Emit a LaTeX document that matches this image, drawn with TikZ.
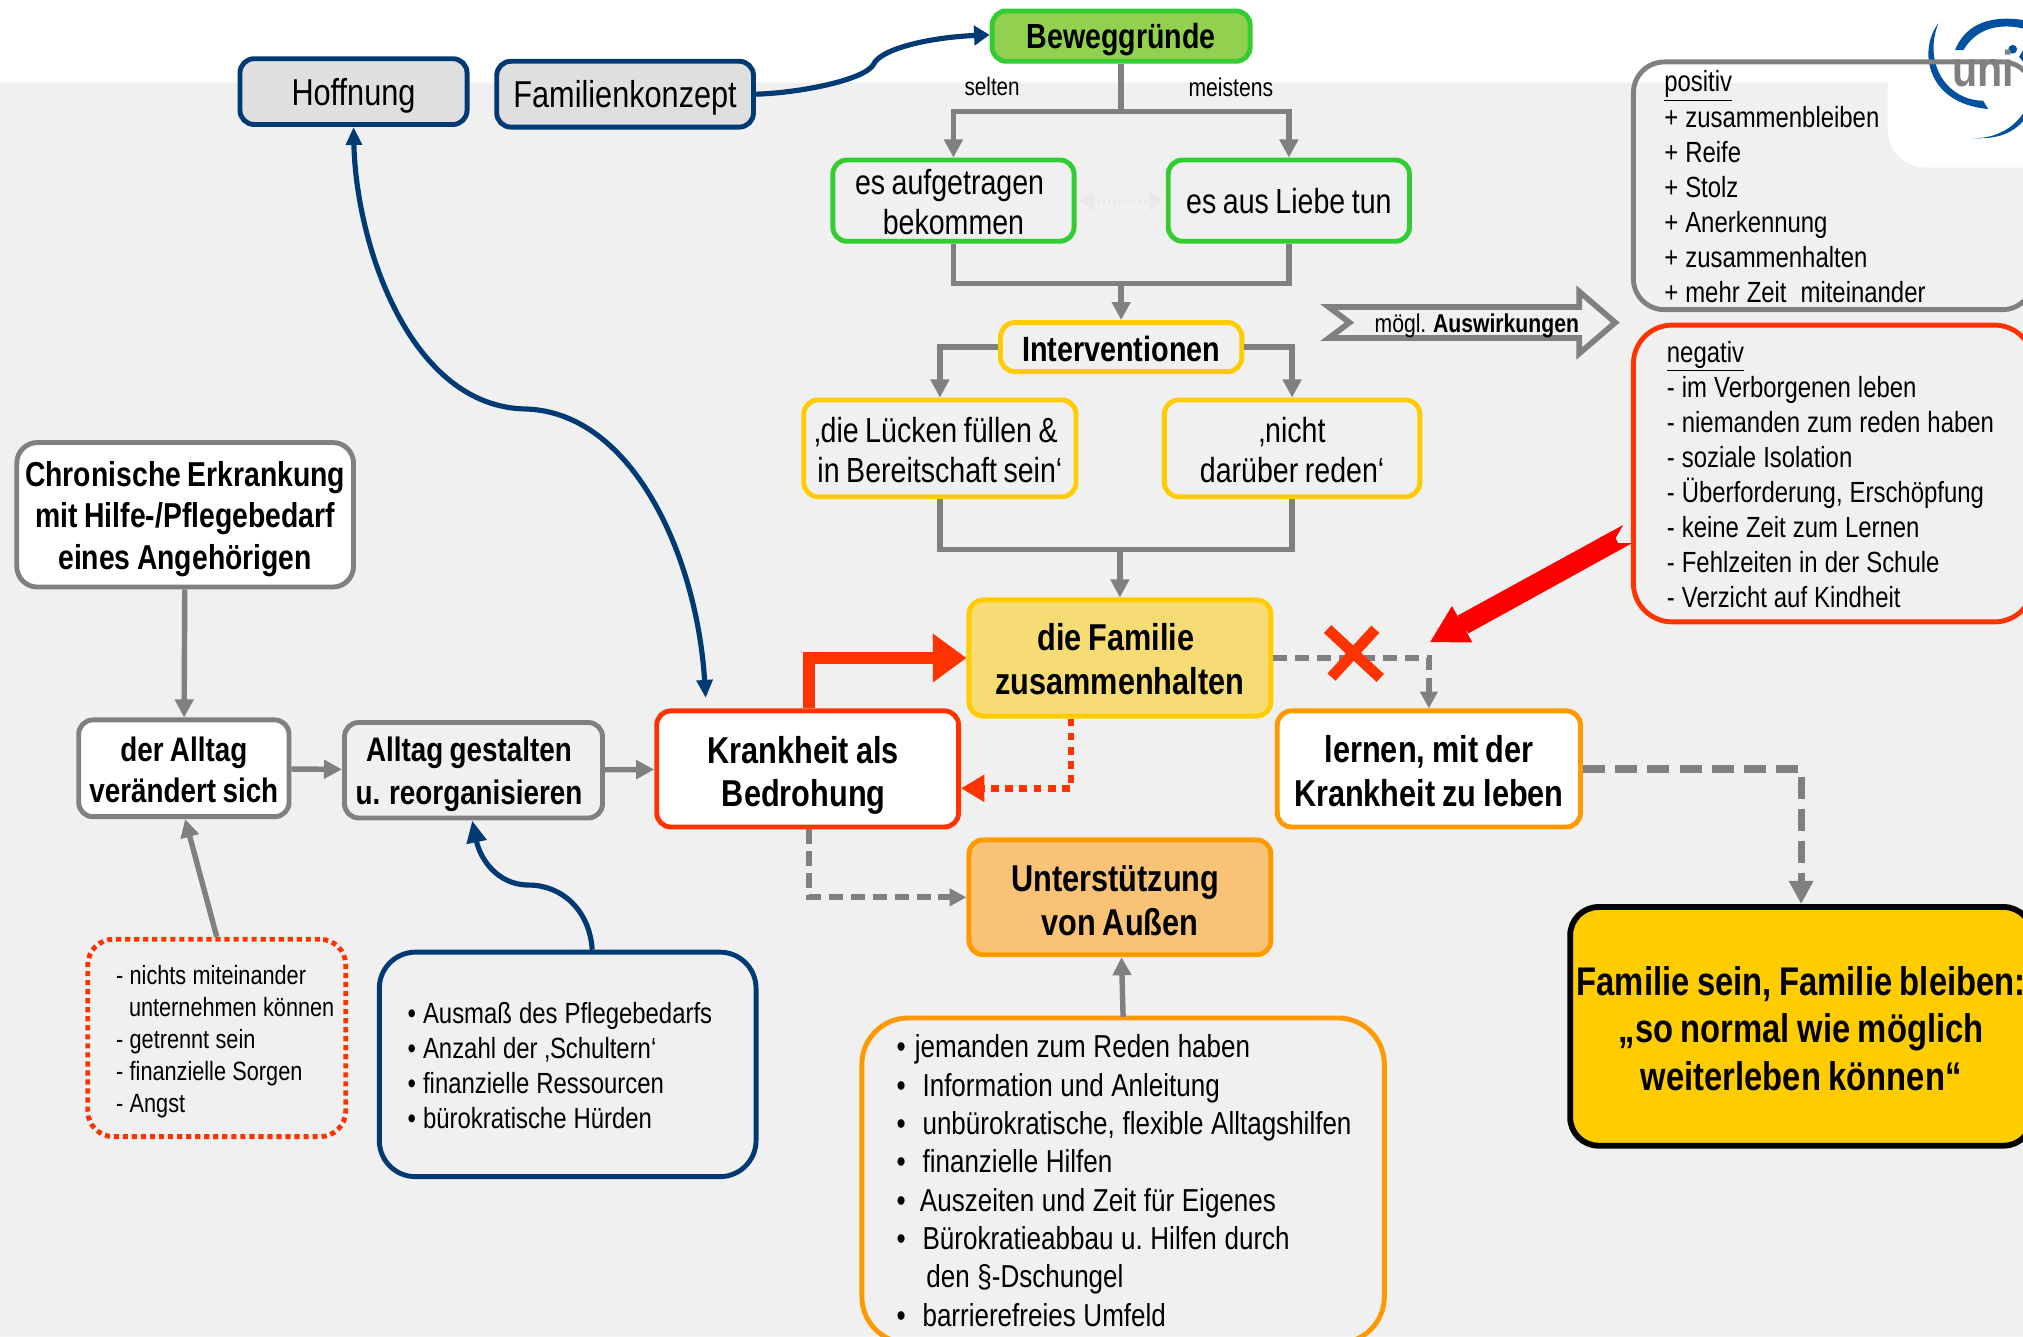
\documentclass[tikz,border=0pt]{standalone}
\usepackage{fontspec}
\setmainfont[FakeStretch=0.82,WordSpace=0.82]{Liberation Sans}
\usetikzlibrary{arrows.meta,positioning,calc}
\definecolor{bggray}{HTML}{F0F0F0}
\definecolor{ngray}{HTML}{808080}
\definecolor{navy}{HTML}{003A75}
\definecolor{rust}{HTML}{FF3300}
\definecolor{gold}{HTML}{FFCC00}
\definecolor{amber}{HTML}{FF9900}
\definecolor{lime}{HTML}{33CC33}
\definecolor{leaf}{HTML}{92D050}
\definecolor{sand}{HTML}{F7DC75}
\definecolor{peach}{HTML}{F8C376}
\definecolor{unib}{HTML}{00519E}
\begin{document}
\begin{tikzpicture}[x=1pt,y=-1pt,
    nd/.style={draw, rounded corners=11pt, align=center, inner sep=0pt, line width=3.8pt},
    dn/.style={execute at begin node={\rule{0pt}{#1pt}}},
    ind/.style={execute at begin node={\leftskip=#1pt\spaceskip=.24em\xspaceskip=.24em\rule{0pt}{18pt}}},
    rg/.style={font=\fontsize{27}{31}\selectfont},
    bd/.style={font=\fontsize{29}{34}\selectfont\bfseries},
    ls/.style={font=\fontsize{22.6}{27.2}\selectfont},
    ar/.style={-{Triangle[length=14pt,width=14pt]}, ngray, line width=4.2pt},
    ln/.style={ngray, line width=4.2pt},
    da/.style={-{Triangle[length=13pt,width=13pt]}, ngray, line width=4.5pt, dash pattern=on 11pt off 6pt},
    cv/.style={navy, line width=4pt},
]
\clip (0,0) rectangle (1568,1036);
% === Background ===
\fill[white] (0,0) rectangle (1568,1036);
\fill[bggray] (0,64) -- (1463,64) -- (1463,100) .. controls (1463,117) and (1476,130) .. (1493,130) -- (1568,130) -- (1568,1036) -- (0,1036) -- cycle;

% === Logo ===
\fill[unib] (1502.4,18) .. controls (1487,38) and (1492,80) .. (1541,84.5) -- (1537,78) .. controls (1510,78) and (1490,50) .. cycle;
\fill[unib] (1515.3,38.8) .. controls (1522,22) and (1538,11) .. (1568,15.5) -- (1568,22) .. controls (1545,17) and (1530,25) .. (1521.8,38.8) -- cycle;
\fill[unib] (1528,107) .. controls (1545,108) and (1560,100) .. (1568,88) -- (1568,94) .. controls (1558,105) and (1545,108) .. cycle;
\fill[unib] (1560,38.2) circle[radius=3.4];
\fill[unib] (1568,39) -- (1565,44) -- (1568,48) -- cycle;
\node[font=\fontsize{39}{39}\selectfont\bfseries, text=ngray, anchor=base west, inner sep=0pt] (logo) at (1513,67) {uni};

% === Row 0: Top boxes ===
\node[nd, fill=gray!25, draw=navy, minimum width=176pt, minimum height=51pt, font=\fontsize{29}{31}\selectfont, dn=27] (hof) at (274,71) {Hoffnung};
\node[nd, fill=gray!25, draw=navy, minimum width=199pt, minimum height=51pt, font=\fontsize{29}{31}\selectfont, dn=27] (fam) at (484.5,73) {Familienkonzept};
\node[nd, fill=leaf, draw=lime, minimum width=200pt, minimum height=39pt, font=\fontsize{27}{31}\selectfont\bfseries, dn=25] (bew) at (869,28) {Beweggründe};

% === Row 1: Motive ===
\node[nd, draw=lime, minimum width=187pt, minimum height=63pt, rg, dn=53] (auf) at (739,155.5) {es aufgetragen\hspace*{6pt}\\bekommen};
\node[nd, draw=lime, minimum width=187pt, minimum height=63pt, rg] (lieb) at (999,155.5) {es aus Liebe tun};

% === Row 2: Interventionen ===
\node[nd, draw=gold, minimum width=187pt, minimum height=38pt, font=\fontsize{27.2}{31}\selectfont\bfseries, dn=22] (int) at (869,269) {Interventionen};
\node[nd, draw=gold, minimum width=211pt, minimum height=75pt, rg, dn=53] (luck) at (728.5,347.5) {‚die Lücken füllen \&\hspace*{6pt}\\in Bereitschaft sein‘};
\node[nd, draw=gold, minimum width=198pt, minimum height=75pt, rg, dn=53] (nich) at (1001.5,347.5) {‚nicht\\darüber reden‘};

% === Row 3: Centre ===
\node[nd, fill=sand, draw=gold, minimum width=234pt, minimum height=90pt, bd, dn=57] (zus) at (868,510) {die Familie\hspace*{6pt}\\zusammenhalten};
\node[nd, fill=white, draw=rust, minimum width=234pt, minimum height=90pt, bd, dn=65] (krank) at (626,596) {Krankheit als\hspace*{7pt}\\Bedrohung\hspace*{6pt}};
\node[nd, fill=white, draw=amber, minimum width=235pt, minimum height=90pt, bd, dn=59] (lern) at (1107.5,596) {lernen, mit der\\Krankheit zu leben};
\node[nd, fill=peach, draw=amber, minimum width=234pt, minimum height=89pt, bd, dn=59] (unt) at (868,695.5) {Unterstützung\hspace*{7pt}\\von Außen};
\node[nd, fill=gold, draw=black, line width=4.5pt, rounded corners=22pt, minimum width=358pt, minimum height=185pt, font=\fontsize{31}{37}\selectfont\bfseries, dn=100] (ziel) at (1396,795.5) {Familie sein, Familie bleiben:\\„so normal wie möglich\\weiterleben können“};

% === Left column ===
\node[nd, fill=white, draw=ngray, minimum width=261pt, minimum height=112pt, rounded corners=16pt, font=\fontsize{26.8}{32}\selectfont\bfseries, dn=90] (chron) at (143.5,399) {Chronische Erkrankung\\mit Hilfe-/Pflegebedarf\\eines Angehörigen};
\node[nd, fill=white, draw=ngray, minimum width=163pt, minimum height=75pt, font=\fontsize{26.3}{32}\selectfont\bfseries, dn=53] (allt) at (142.5,595.5) {der Alltag\\verändert sich};
\node[nd, draw=ngray, minimum width=200pt, minimum height=74pt, font=\fontsize{26.3}{33}\selectfont\bfseries, dn=58] (gest) at (367,597) {Alltag gestalten\hspace*{7pt}\\u. reorganisieren\hspace*{7pt}};

% === Lists ===
\node[nd, draw=ngray, rounded corners=24pt, minimum width=310pt, minimum height=192pt, align=left, text width=300pt, ls, ind=19] (pos) at (1421,144)
  {\underline{positiv}\\+ zusammenbleiben\\+ Reife\\+ Stolz\\+ Anerkennung\\+ zusammenhalten\\+ mehr Zeit\ \ miteinander};
\node[nd, draw=rust, rounded corners=30pt, minimum width=310pt, minimum height=230pt, align=left, text width=300pt, ls, ind=21] (neg) at (1421,367)
  {\underline{negativ}\\- im Verborgenen leben\\- niemanden zum reden haben\\- soziale Isolation\\- Überforderung, Erschöpfung\\- keine Zeit zum Lernen\\- Fehlzeiten in der Schule\\- Verzicht auf Kindheit};
\node[nd, draw=rust, dash pattern=on 4pt off 3pt, rounded corners=20pt, minimum width=200pt, minimum height=153pt, align=left, text width=194pt, font=\fontsize{20.5}{24.8}\selectfont, ind=19] (sorg) at (168,804.5)
  {\rule{0pt}{21pt}- nichts miteinander\\\hspace*{10pt}unternehmen können\\- getrennt sein\\- finanzielle Sorgen\\- Angst};
\node[nd, draw=navy, rounded corners=28pt, minimum width=292pt, minimum height=174pt, align=left, text width=284pt, ls, ind=18] (bed) at (440,825)
  {\textbullet\ Ausmaß des Pflegebedarfs\\\textbullet\ Anzahl der ‚Schultern‘\\\textbullet\ finanzielle Ressourcen\\\textbullet\ bürokratische Hürden};
\node[nd, draw=amber, rounded corners=36pt, minimum width=405pt, minimum height=252pt, align=left, text width=395pt, font=\fontsize{24.6}{29.7}\selectfont, ind=22] (hilf) at (870.5,915)
  {\textbullet\hspace{7pt}jemanden zum Reden haben\\\textbullet\hspace{13pt}Information und Anleitung\\\textbullet\hspace{13pt}unbürokratische, flexible Alltagshilfen\\\textbullet\hspace{13pt}finanzielle Hilfen\\\textbullet\hspace{11pt}Auszeiten und Zeit für Eigenes\\\textbullet\hspace{13pt}Bürokratieabbau u. Hilfen durch\\\hspace*{23pt}den §-Dschungel\\\textbullet\hspace{13pt}barrierefreies Umfeld};

% --- Labels ---
\node[font=\fontsize{19.5}{19}\selectfont, inner sep=0pt] (selt) at (769,67) {selten};
\node[font=\fontsize{20}{19}\selectfont, inner sep=0pt] (meis) at (954,68) {meistens};

% --- Outline arrow ---
\draw[ngray, line width=4.4pt, miter limit=4] (1030,238) -- (1224,238) -- (1224,226) -- (1252,250) -- (1224,274) -- (1224,262) -- (1030,262) -- (1046,250) -- cycle;
\node[anchor=east, inner sep=0pt, font=\fontsize{20}{20}\selectfont] (ausw) at (1224,252.5) {mögl. \textbf{Auswirkungen}};

% --- Arrows ---
\draw[ar] (bew.south) -- ++(0,37) -| (auf);
\draw[ar] (bew.south) -- ++(0,37) -| (lieb);
\draw[ln] (auf.south) -- ++(0,31) -| (lieb.south);
\coordinate (mrgo) at (869,218);
\draw[ar] (mrgo) -- (int);
\draw[{Triangle[length=10pt,width=15pt]}-{Triangle[length=10pt,width=15pt]}, gray!18, line width=3pt, dash pattern=on 2pt off 2pt, shorten <=3pt, shorten >=3pt] (auf) -- (lieb);
\draw[ar] (int.west) -| (luck);
\draw[ar] (int.east) -| (nich);
\draw[ln] (luck.south) -- ++(0,39) -| (nich.south);
\coordinate (mrgu) at (868,424);
\draw[ar] (mrgu) -- (zus);
\draw[ar] (chron) -- (allt);
\draw[ar] (allt) -- (gest);
\draw[ar] (gest) -- (krank);
\draw[ar] (sorg.north) -- ([xshift=1pt]allt.south);
\draw[cv, -{Triangle[length=17pt,width=15pt]}] ([xshift=19pt]bed.north) .. controls (457,705) and (435,686) .. (410,686) .. controls (385,686) and (372,665) .. (366,636);
\draw[cv, {Triangle[length=14pt,width=12pt]}-{Triangle[length=14pt,width=12pt]}] (hof.south) .. controls (276,190) and (318,316) .. (408,317) .. controls (490,320) and (540,430) .. (547,541);
\draw[cv, -{Triangle[length=12pt,width=15pt]}] (fam.east) .. controls (620,72) and (670,62) .. (677,50) .. controls (682,38) and (720,29) .. (767,27);
\draw[rust, line width=10pt, -{Triangle[length=26pt,width=36pt]}] ([xshift=1pt]krank.north) |- (zus.west);
\draw[rust, line width=5pt, dash pattern=on 6pt off 5pt, -{Triangle[length=18pt,width=20pt]}] ([xshift=-38pt]zus.south) -- (830,611) -- (krank.east |- 0,611);
\draw[da] ([xshift=1pt]krank.south) |- (unt.west);
\draw[da] (zus.east) -| (lern);
\draw[da, line width=5.5pt, dash pattern=on 17pt off 8pt, -{Triangle[length=18pt,width=18pt]}] (lern.east) -| (ziel);
\draw[ar] ([yshift=-1pt]hilf.north) -- (unt);
\coordinate (rth) at (1108,498);
\fill[red] (1130,477) -- (1258,407) -- (1250,421) -- (1265,421) -- (1138,491) -- cycle;
\draw[red, line width=12pt, -{Triangle[length=29pt,width=30pt]}] ([shift={(-12,50)}]neg.west) -- (rth);
% --- Cross ---
\coordinate (xa) at (1029,487.6);
\coordinate (xb) at (1069.8,525.5);
\coordinate (xc) at (1066,487.7);
\coordinate (xd) at (1032,524.8);
\draw[rust, line width=8.4pt] (xa) -- (xb);
\draw[rust, line width=8.4pt] (xc) -- (xd);
\end{tikzpicture}
\end{document}
